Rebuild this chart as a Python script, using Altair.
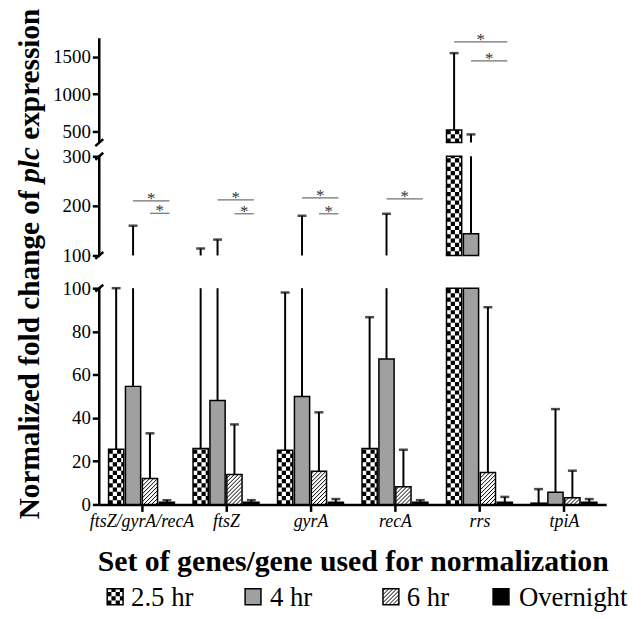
import altair as alt
import pandas as pd

# ---------------- data ----------------
genes = ["ftsZ/gyrA/recA", "ftsZ", "gyrA", "recA", "rrs", "tpiA"]
times = ["2.5 hr", "4 hr", "6 hr", "Overnight"]

mean_25 = [25.5, 25.9, 25.1, 25.9, 520, 0.6]
mean_4 = [54.6, 48.1, 49.9, 67.3, 144, 5.6]
mean_6 = [12.0, 13.9, 15.4, 8.2, 14.8, 3.1]
mean_on = [1.0, 1.0, 1.0, 1.0, 1.0, 1.0]

top_25 = [100, 114, 98, 86.6, 1550, 7.1]
top_4 = [160, 132, 180, 184, 460, 44.1]
top_6 = [32.9, 37.0, 42.6, 25.3, 91.2, 15.6]
top_on = [2.0, 2.0, 2.5, 2.0, 3.5, 2.5]

sig_gene = [0, 0, 1, 1, 2, 2, 3, 4, 4]
sig_from = ["4 hr", "6 hr", "4 hr", "6 hr", "4 hr", "6 hr", "4 hr", "2.5 hr", "4 hr"]
sig_to = ["Overnight"] * 9
sig_level = [210, 185, 212, 184, 216, 184, 214, 1700, 1447]

y_ticks = [0, 20, 40, 60, 80, 100, 100.001, 200, 300, 500, 1000, 1500]

# ---------------- layout / style ----------------
SERIF = "Liberation Serif"
W = 511
KX = W / 6.0
Y_DOMAIN = [0, 100, 100.001, 300, 350, 1750]
Y_RANGE = [470, 252, 219, 119, 105.25, 0]
KY = (Y_RANGE[0] - Y_RANGE[1]) / 100.0
SEGS = [(0, 100), (100.001, 300), (350, 1750)]
BAR_STEP = 0.2
BAR_HALF = 0.09
CELL = 0.05
CELL_PX = CELL * KX
HATCH_GAP = 4.0
FILLS = ["white", "#a0a0a0", "white", "black"]

means = {"2.5 hr": mean_25, "4 hr": mean_4, "6 hr": mean_6, "Overnight": mean_on}
tops = {"2.5 hr": top_25, "4 hr": top_4, "6 hr": top_6, "Overnight": top_on}


def xc(g, t):
    return g + (t - 1.5) * BAR_STEP


def px2x(p):
    return -0.5 + p / KX


def px2y(p):
    return (Y_RANGE[0] - p) / KY


# bar pieces (split at the axis breaks)
bar_rows = []
err_rows = []
cap_rows = []
for ti, tname in enumerate(times):
    for g in range(len(genes)):
        v = means[tname][g]
        e = tops[tname][g]
        x = xc(g, ti)
        for a, b in SEGS:
            lo, hi = max(0, a), min(v, b)
            if hi > lo:
                bar_rows.append(dict(series=tname, x0=x - BAR_HALF, x1=x + BAR_HALF, y0=lo, y1=hi))
            lo, hi = max(v, a), min(e, b)
            if hi > lo:
                err_rows.append(dict(x=x, y0=lo, y1=hi))
        cap_rows.append(dict(x=x, y=e))

# legend swatches
leg_px = [8, 147, 286, 397]
leg_txt_px = [32, 172, 310, 423]
LEG_Y = 563
for tname, lp in zip(times, leg_px):
    bar_rows.append(dict(series=tname, x0=px2x(lp), x1=px2x(lp + 16),
                         y0=px2y(LEG_Y + 8), y1=px2y(LEG_Y - 8)))

bars = pd.DataFrame(bar_rows)
errs = pd.DataFrame(err_rows)
caps = pd.DataFrame(cap_rows)

# checker columns
chk_rows = []
for r in bars[bars.series == "2.5 hr"].itertuples():
    x = r.x0
    k = 0
    while x < r.x1 - 1e-9:
        w = min(CELL, r.x1 - x)
        chk_rows.append(dict(xm=x + w / 2, y0=r.y0, y1=r.y1, sw=w * KX, odd=k % 2))
        x += w
        k += 1
chk = pd.DataFrame(chk_rows)

# hatch lines
hat_rows = []
for r in bars[bars.series == "6 hr"].itertuples():
    Wp = (r.x1 - r.x0) * KX
    Hp = (r.y1 - r.y0) * KY
    b = -Wp + HATCH_GAP / 2
    while b < Hp:
        u0 = max(0.0, -b)
        u1 = min(Wp, Hp - b)
        if u1 > u0:
            hat_rows.append(dict(hx0=r.x0 + u0 / KX, hy0=r.y0 + (u0 + b) / KY,
                                 hx1=r.x0 + u1 / KX, hy1=r.y0 + (u1 + b) / KY))
        b += HATCH_GAP
hat = pd.DataFrame(hat_rows)

axseg = pd.DataFrame(dict(ax=[-0.5] * 3, y0=[s[0] for s in SEGS], y1=[s[1] for s in SEGS]))
slash = pd.DataFrame(dict(ax=[-0.5] * 4, yv=[100, 100.001, 300, 350]))

br = pd.DataFrame(dict(
    bx0=[xc(g, times.index(f)) for g, f in zip(sig_gene, sig_from)],
    bx1=[xc(g, times.index(t)) + 0.03 for g, t in zip(sig_gene, sig_to)],
    y=sig_level,
))
br["mid"] = (br.bx0 + br.bx1) / 2

# ---------------- encodings ----------------
xscale = alt.Scale(domain=[-0.5, 5.5], nice=False, zero=False)
yscale = alt.Scale(domain=Y_DOMAIN, range=Y_RANGE, nice=False, zero=False)

label_expr = "[" + ",".join("'%s'" % g for g in genes) + "][datum.value]"

xaxis = alt.Axis(values=list(range(len(genes))), labelExpr=label_expr, labelFont=SERIF,
                 labelFontStyle="italic", labelFontSize=18, labelColor="black",
                 labelPadding=1, labelFlush=False, labelOverlap=False, labelBound=False,
                 tickSize=7, tickWidth=2.5, tickColor="black",
                 domainWidth=2.5, domainColor="black", grid=False,
                 title="Set of genes/gene used for normalization", titleFont=SERIF,
                 titleFontSize=30, titleFontWeight="bold", titleColor="black",
                 titleY=67, titleBaseline="alphabetic")
yaxis = alt.Axis(values=y_ticks, format="d", labelFont=SERIF, labelFontSize=19,
                 labelColor="black", labelPadding=2, labelOverlap=False, labelFlush=False,
                 tickSize=7, tickWidth=2.5, tickColor="black", domain=False, grid=False,
                 title="")


def X(f):
    return alt.X(f, type="quantitative", scale=xscale, axis=xaxis)


def Y(f):
    return alt.Y(f, type="quantitative", scale=yscale, axis=yaxis)


fill_layer = alt.Chart(bars).mark_rect(strokeWidth=0).encode(
    x=X("x0"), x2="x1", y=Y("y0"), y2="y1",
    fill=alt.Fill("series:N", scale=alt.Scale(domain=times, range=FILLS), legend=None),
)

chk_layers = [
    alt.Chart(chk[chk.odd == k]).mark_rule(color="black", strokeDash=[CELL_PX, CELL_PX],
                                         strokeDashOffset=k * CELL_PX, strokeCap="butt").encode(
        x=X("xm"), y=Y("y0"), y2="y1", strokeWidth=alt.StrokeWidth("sw:Q", scale=None))
    for k in (0, 1)
]

hat_layer = alt.Chart(hat).mark_rule(color="black", strokeWidth=1).encode(
    x=X("hx0"), y=Y("hy0"), x2="hx1", y2="hy1")

outline = alt.Chart(bars).mark_rect(fillOpacity=0, stroke="black", strokeWidth=1.5).encode(
    x=X("x0"), x2="x1", y=Y("y0"), y2="y1")

stems = alt.Chart(errs).mark_rule(color="black", strokeWidth=2).encode(
    x=X("x"), y=Y("y0"), y2="y1")

cap_layer = alt.Chart(caps).mark_tick(orient="horizontal", size=9, thickness=2.5, color="black").encode(
    x=X("x"), y=Y("y"))

axis_layer = alt.Chart(axseg).mark_rule(color="black", strokeWidth=2.5).encode(
    x=X("ax"), y=Y("y0"), y2="y1")

slash_layer = alt.Chart(slash).mark_rule(color="black", strokeWidth=2.5, xOffset=-4, x2Offset=4,
                                         yOffset=3.5, y2Offset=-3.5).encode(
    x=X("ax"), x2="ax", y=Y("yv"), y2="yv")

br_layer = alt.Chart(br).mark_rule(color="#707070", strokeWidth=1.2).encode(
    x=X("bx0"), x2="bx1", y=Y("y"))

star_layer = alt.Chart(br).mark_text(text="*", font=SERIF, fontSize=17, color="#333333",
                                     baseline="alphabetic", align="center", dy=3).encode(
    x=X("mid"), y=Y("y"))

# y title with italic "plc"
FS = 29.5
Y0 = 485
w1 = 11.249 * FS
sp = 0.25 * FS
w2 = 1.222 * FS
ytitle_parts = [("Normalized fold change of", "normal", Y0),
                ("plc", "italic", Y0 - w1 - sp),
                ("expression", "normal", Y0 - w1 - sp - w2 - sp)]
ytitle_layers = [
    alt.Chart(pd.DataFrame({"t": [txt]})).mark_text(
        font=SERIF, fontSize=FS, fontWeight="bold", fontStyle=style, angle=270,
        align="left", baseline="middle", color="black").encode(
        x=alt.value(-70), y=alt.value(yy), text="t:N")
    for txt, style, yy in ytitle_parts
]

legend_text = [
    alt.Chart(pd.DataFrame({"t": [tname]})).mark_text(
        font=SERIF, fontSize=27, align="left", baseline="alphabetic", color="black").encode(
        x=alt.value(tx), y=alt.value(LEG_Y + 9), text="t:N")
    for tname, tx in zip(times, leg_txt_px)
]

chart = alt.layer(
    fill_layer, *chk_layers, hat_layer, outline, stems, cap_layer,
    axis_layer, slash_layer, br_layer, star_layer, *ytitle_layers, *legend_text,
).properties(
    width=W, height=470,
    autosize=alt.AutoSizeParams(type="none"),
    padding={"left": 92, "top": 28, "right": 22, "bottom": 110},
).configure(background="white", view=alt.ViewConfig(stroke=None))

chart.save("out.html", embed_options={"renderer": "svg", "actions": False})
